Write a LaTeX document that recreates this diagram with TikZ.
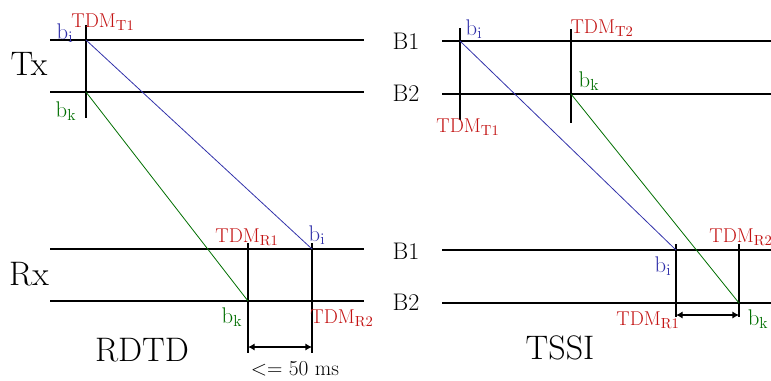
\documentclass[tikz,border=0pt]{standalone}
\usepackage{tikz}
\usetikzlibrary{arrows.meta}
\definecolor{bitblue}{RGB}{50,50,170}
\definecolor{tdmred}{RGB}{195,20,20}
\definecolor{bitgreen}{RGB}{0,110,0}

\begin{document}
\begin{tikzpicture}[x=0.75pt, y=-0.75pt,
  band/.style={line width=1pt},
  tdmline/.style={line width=1.6pt},
  sig/.style={line width=0.6pt},
  tdm/.style={text=tdmred, font=\fontsize{15}{17}\selectfont, inner sep=0pt},
  bit/.style={font=\fontsize{17}{19}\selectfont, inner sep=0pt},
  lane/.style={font=\fontsize{18}{21}\selectfont, inner sep=0pt},
  title/.style={font=\fontsize{25.5}{29}\selectfont, inner sep=0pt},
  gap/.style={{Latex[length=5pt,width=5.5pt]}-{Latex[length=5pt,width=5.5pt]}, line width=1.5pt},
]
\useasboundingbox (0,0) rectangle (771,380);

% RDTD: bands
\draw[band] (50,40) -- (364,40);
\draw[band] (50,92) -- (364,92);
\draw[band] (50,249) -- (364,249);
\draw[band] (50,301) -- (364,301);
\node[title] (tx) at (29,64) {Tx};
\node[title] (rx) at (29,274) {Rx};

% RDTD: TDM marks
\coordinate (t1top) at (86,25);    \coordinate (t1bot) at (86,118);
\coordinate (r1top) at (248,243);  \coordinate (r1bot) at (248,353);
\coordinate (r2top) at (312,243);  \coordinate (r2bot) at (312,353);
\draw[tdmline] (t1top) -- (t1bot);
\draw[tdmline] (r1top) -- (r1bot);
\draw[tdmline] (r2top) -- (r2bot);

% RDTD: bits
\coordinate (bisend) at (86,40);  \coordinate (birecv) at (312,249);
\coordinate (bksend) at (86,92);  \coordinate (bkrecv) at (248,301);
\draw[sig, bitblue] (bisend) -- (birecv);
\draw[sig, bitgreen] (bksend) -- (bkrecv);

\coordinate (gapl) at (248,347);  \coordinate (gapr) at (312,347);
\draw[gap] (gapl) -- (gapr);

\node[tdm] (lt1) at (103,22) {TDM$_{\mathrm{T1}}$};
\node[tdm] (lr1) at (247,237) {TDM$_{\mathrm{R1}}$};
\node[tdm] (lr2) at (342,318) {TDM$_{\mathrm{R2}}$};
\node[bit, bitblue] (lbi) at (65,33) {b$_{\mathrm{i}}$};
\node[bit, bitgreen] (lbk) at (66,111) {b$_{\mathrm{k}}$};
\node[bit, bitblue] (lbi2) at (317,235) {b$_{\mathrm{i}}$};
\node[bit, bitgreen] (lbk2) at (232,317) {b$_{\mathrm{k}}$};
\node[title] (rdtd) at (142,350) {RDTD};
\node[font=\fontsize{16}{18}\selectfont, inner sep=0pt] (limit) at (295,369) {<= 50 ms};

% TSSI: bands
\draw[band] (442,41) -- (771,41);
\draw[band] (442,94) -- (771,94);
\draw[band] (442,250) -- (771,250);
\draw[band] (442,303) -- (771,303);
\node[lane] (sb1) at (406,41) {B1};
\node[lane] (sb2) at (406,93) {B2};
\node[lane] (rb1) at (406,251) {B1};
\node[lane] (rb2) at (406,302) {B2};

% TSSI: TDM marks
\coordinate (u1top) at (460,28);   \coordinate (u1bot) at (460,120);
\coordinate (u2top) at (571,29);   \coordinate (u2bot) at (571,123);
\coordinate (v1top) at (676,244);  \coordinate (v1bot) at (676,317);
\coordinate (v2top) at (739,244);  \coordinate (v2bot) at (739,317);
\draw[tdmline] (u1top) -- (u1bot);
\draw[tdmline] (u2top) -- (u2bot);
\draw[tdmline] (v1top) -- (v1bot);
\draw[tdmline] (v2top) -- (v2bot);

% TSSI: bits
\coordinate (cisend) at (460,41);  \coordinate (cirecv) at (676,250);
\coordinate (cksend) at (571,94);  \coordinate (ckrecv) at (739,303);
\draw[sig, bitblue] (cisend) -- (cirecv);
\draw[sig, bitgreen] (cksend) -- (ckrecv);

\coordinate (hopl) at (676,315);  \coordinate (hopr) at (739,315);
\draw[gap] (hopl) -- (hopr);

\node[tdm] (rt1) at (468,127) {TDM$_{\mathrm{T1}}$};
\node[tdm] (rt2) at (602,28) {TDM$_{\mathrm{T2}}$};
\node[tdm] (rr1) at (648,320) {TDM$_{\mathrm{R1}}$};
\node[tdm] (rr2) at (741,237) {TDM$_{\mathrm{R2}}$};
\node[bit, bitblue] (rbi) at (474,29) {b$_{\mathrm{i}}$};
\node[bit, bitgreen] (rbk) at (589,81) {b$_{\mathrm{k}}$};
\node[bit, bitblue] (rbi2) at (663,266) {b$_{\mathrm{i}}$};
\node[bit, bitgreen] (rbk2) at (758,319) {b$_{\mathrm{k}}$};
\node[title] (tssi) at (560,348) {TSSI};
\end{tikzpicture}
\end{document}
